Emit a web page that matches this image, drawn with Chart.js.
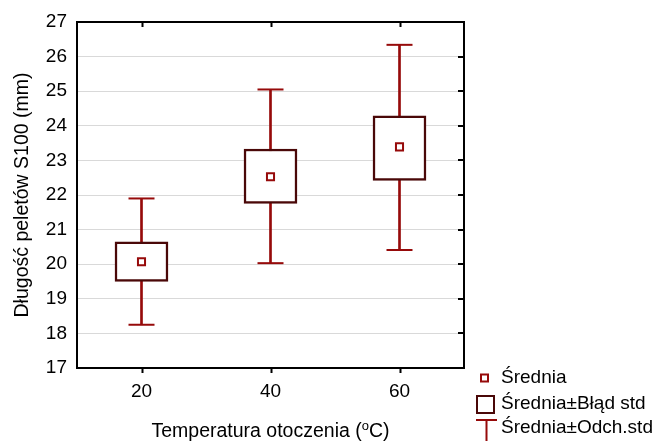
<!DOCTYPE html>
<html>
<head>
<meta charset="utf-8">
<script src="https://cdn.jsdelivr.net/npm/chart.js@4/dist/chart.umd.min.js"></script>
<style>
  html, body { margin: 0; padding: 0; background: #fff; }
</style>
</head>
<body>
<canvas id="chart" width="659" height="441"></canvas>
<script>
// temperatures on the x axis
const temps = ['20', '40', '60'];
// mean, +-standard error, +-standard deviation (mm)
const means = [20.07, 22.53, 23.39];
const seLow = [19.50, 21.76, 22.42];
const seHigh = [20.65, 23.33, 24.29];
const sdLow = [18.25, 20.03, 20.41];
const sdHigh = [21.90, 25.05, 26.34];
const yMin = 17, yMax = 27;
const legendLabels = ['Średnia', 'Średnia±Błąd std', 'Średnia±Odch.std'];

const FONT = "'Liberation Sans', Arial, sans-serif";
const RED = '#960a0a';
const DARK = '#4a0808';

// frame, inner ticks, x title with superscript and the legend
const framePlugin = {
    id: 'frame',
    afterDraw(chart) {
        const { ctx, chartArea: a, scales: { x, y } } = chart;
        ctx.save();
        ctx.strokeStyle = '#000';
        ctx.lineWidth = 2;
        ctx.strokeRect(a.left, a.top, a.right - a.left, a.bottom - a.top);
        ctx.beginPath();
        temps.forEach((t, i) => {
            const px = Math.round(x.getPixelForValue(i)) + 0.5;
            ctx.moveTo(px, a.top);
            ctx.lineTo(px, a.top + 5);
            ctx.moveTo(px, a.bottom);
            ctx.lineTo(px, a.bottom + 5);
        });
        for (let v = yMin + 1; v < yMax; v++) {
            const py = Math.round(y.getPixelForValue(v));
            ctx.moveTo(a.right, py);
            ctx.lineTo(a.right - 6, py);
        }
        ctx.stroke();

        // x axis title: "Temperatura otoczenia (oC)" with superscript o
        const p1 = 'Temperatura otoczenia (', sup = 'o', p2 = 'C)';
        ctx.fillStyle = '#000';
        ctx.textBaseline = 'alphabetic';
        ctx.textAlign = 'left';
        ctx.font = '19.5px ' + FONT;
        const w1 = ctx.measureText(p1).width, w3 = ctx.measureText(p2).width;
        ctx.font = '13px ' + FONT;
        const w2 = ctx.measureText(sup).width;
        let tx = (a.left + a.right) / 2 - (w1 + w2 + w3) / 2;
        const ty = 437;
        ctx.font = '19.5px ' + FONT;
        ctx.fillText(p1, tx, ty);
        ctx.font = '13px ' + FONT;
        ctx.fillText(sup, tx + w1, ty - 7.5);
        ctx.font = '19.5px ' + FONT;
        ctx.fillText(p2, tx + w1 + w2, ty);

        // legend
        ctx.lineWidth = 2;
        ctx.strokeStyle = RED;
        ctx.strokeRect(481, 374.5, 7, 7);
        ctx.strokeStyle = DARK;
        ctx.strokeRect(477, 396, 17, 17);
        ctx.strokeStyle = RED;
        ctx.beginPath();
        ctx.moveTo(476, 420);
        ctx.lineTo(497, 420);
        ctx.moveTo(486.5, 420);
        ctx.lineTo(486.5, 442);
        ctx.stroke();
        ctx.fillStyle = '#000';
        ctx.font = '19px ' + FONT;
        ctx.textBaseline = 'middle';
        [378, 404, 428].forEach((ly, i) => ctx.fillText(legendLabels[i], 501, ly));
        ctx.restore();
    }
};

new Chart(document.getElementById('chart'), {
    type: 'bar',
    data: {
        labels: temps,
        datasets: [
            {
                type: 'line', data: means, showLine: false, order: 0,
                pointStyle: 'rect', pointRadius: 5, pointBorderWidth: 2,
                borderColor: RED, pointBackgroundColor: '#fff'
            },
            {
                type: 'line', data: sdHigh, showLine: false, order: 1,
                pointStyle: 'line', pointRadius: 13, pointBorderWidth: 2, borderColor: RED
            },
            {
                type: 'line', data: sdLow, showLine: false, order: 1,
                pointStyle: 'line', pointRadius: 13, pointBorderWidth: 2, borderColor: RED
            },
            {
                data: seLow.map((v, i) => [v, seHigh[i]]), order: 2, grouped: false,
                barThickness: 53, backgroundColor: '#fff', borderColor: DARK,
                borderWidth: 2.5, borderSkipped: false
            },
            {
                data: sdLow.map((v, i) => [v, sdHigh[i]]), order: 3, grouped: false,
                barThickness: 2, backgroundColor: RED, borderWidth: 0
            }
        ]
    },
    options: {
        responsive: false,
        animation: false,
        events: [],
        layout: { padding: { top: 22, right: 195, bottom: 0, left: 0 } },
        plugins: { legend: { display: false }, tooltip: { enabled: false } },
        scales: {
            x: {
                afterFit(scale) { scale.height = 73; },
                grid: { display: false },
                border: { display: false },
                ticks: { color: '#000', font: { size: 19, family: FONT }, padding: 4 }
            },
            y: {
                min: yMin, max: yMax,
                afterFit(scale) { scale.width = 77; },
                grid: { color: '#d9d9d9', drawTicks: false },
                border: { display: false },
                ticks: { stepSize: 1, color: '#000', font: { size: 19, family: FONT }, padding: 10 },
                title: {
                    display: true, text: 'Długość peletów S100 (mm)', color: '#000',
                    font: { size: 19.5, family: FONT }, padding: { top: 11 }
                }
            }
        }
    },
    plugins: [framePlugin]
});
</script>
</body>
</html>
